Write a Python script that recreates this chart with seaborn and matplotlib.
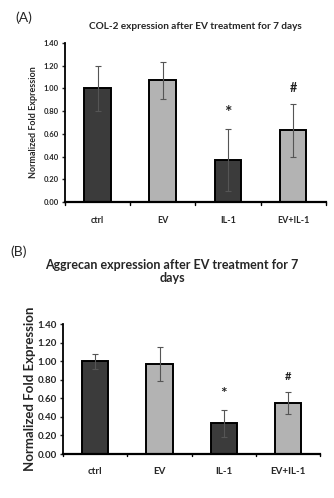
import matplotlib
matplotlib.use("Agg")
import matplotlib.pyplot as plt
import seaborn as sns
import pandas as pd
import numpy as np

categories = ["ctrl", "EV", "IL-1", "EV+IL-1"]
col2_values = [1.00, 1.07, 0.37, 0.63]
col2_errors = [0.20, 0.16, 0.27, 0.23]
col2_marks = ["", "", "*", "#"]
agg_values = [1.00, 0.97, 0.33, 0.55]
agg_errors = [0.08, 0.185, 0.145, 0.12]
agg_marks = ["", "", "*", "#"]
yticks = [0.0, 0.2, 0.4, 0.6, 0.8, 1.0, 1.2, 1.4]
bar_colors = ["#3b3b3b", "#b3b3b3", "#3b3b3b", "#b3b3b3"]

sns.set_style("white")
plt.rcParams["font.family"] = ["Lato", "DejaVu Sans"]

fig = plt.figure(figsize=(3.34, 4.98), dpi=100)
axA = fig.add_axes([0.195, 0.594, 0.78, 0.32])
axB = fig.add_axes([0.189, 0.0883, 0.77, 0.261])


def draw(ax, values, errors, marks, tick_fs, xt_fs, ylab_fs, mark_fs, mark_off, xpad, ylpad):
    df = pd.DataFrame({"cat": categories, "val": values})
    sns.barplot(data=df, x="cat", y="val", hue="cat", palette=bar_colors,
                width=0.41, errorbar=None, legend=False, ax=ax,
                edgecolor="black", linewidth=1.4, saturation=1)
    ax.errorbar(x=np.arange(len(categories)), y=values, yerr=errors,
                fmt="none", ecolor="#555555", elinewidth=0.8, capsize=2, capthick=0.8)
    for i, (v, e, m) in enumerate(zip(values, errors, marks)):
        if m:
            ax.text(i, v + e + mark_off, m, ha="center", va="center",
                    fontsize=mark_fs * (1.4 if m == "*" else 1.0),
                    color="#222222", fontweight="bold")
    ax.set_ylim(0, 1.4)
    ax.set_xlim(-0.5, len(categories) - 0.5)
    ax.set_yticks(yticks)
    ax.set_yticklabels([f"{t:.2f}" for t in yticks], fontsize=tick_fs, fontweight="bold")
    ax.set_xticks(np.arange(len(categories)))
    ax.set_xticklabels(categories, fontsize=xt_fs, fontweight="bold")
    ax.tick_params(axis="x", length=0, pad=xpad)
    ax.tick_params(axis="y", length=2.5, width=1, direction="out", pad=2, left=True)
    for b in np.arange(-0.5, len(categories), 1.0):
        ax.plot([b, b], [0, -0.025], color="black", lw=1, clip_on=False,
                transform=ax.transData)
    ax.set_xlabel("")
    ax.set_ylabel("Normalized Fold Expression", fontsize=ylab_fs, fontweight="bold",
                  labelpad=ylpad)
    for s in ["top", "right"]:
        ax.spines[s].set_visible(False)
    ax.spines["left"].set_linewidth(1.3)
    ax.spines["bottom"].set_linewidth(1.6)
    ax.spines["left"].set_color("black")
    ax.spines["bottom"].set_color("black")


draw(axA, col2_values, col2_errors, col2_marks, 5.5, 6.5, 6.5, 9, 0.14, 10, 4)
draw(axB, agg_values, agg_errors, agg_marks, 7, 7, 9.5, 8, 0.17, 9, 1)

axA.set_title("COL-2 expression after EV treatment for 7 days", fontsize=7.2,
              fontweight="bold", pad=10)
fig.text(0.515, 1 - 265 / 498, "Aggrecan expression after EV treatment for 7",
         fontsize=9.0, fontweight="bold", ha="center", va="center")
fig.text(0.515, 1 - 278 / 498, "days",
         fontsize=9.0, fontweight="bold", ha="center", va="center")

fig.text(0.045, 0.965, "(A)", fontsize=10, va="center")
fig.text(0.03, 0.494, "(B)", fontsize=10, va="center")

fig.savefig("out.png", dpi=100)
